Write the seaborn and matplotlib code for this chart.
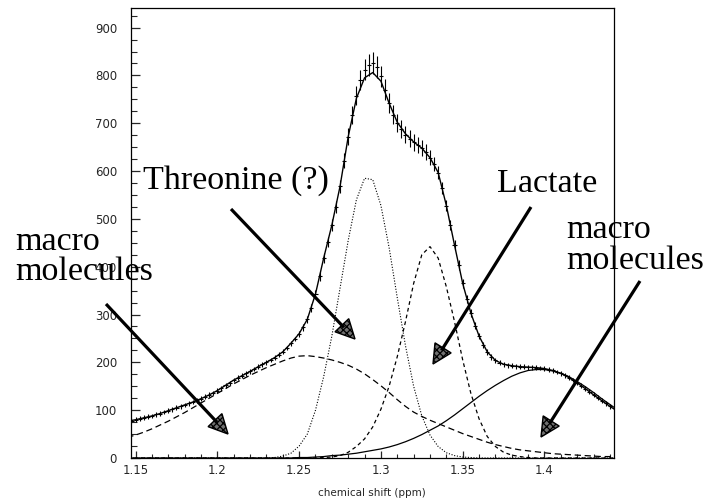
import numpy as np
import pandas as pd
import matplotlib
matplotlib.use("Agg")
import matplotlib.pyplot as plt
import seaborn as sns
from matplotlib.patches import Polygon

# ---------------- data ----------------
# measured spectrum (bin width 0.0025 ppm, first bin centre 1.1475 ppm)
data_start, data_step = 1.1475, 0.0025
data_counts = [78, 80, 82, 84, 86,
               88, 91, 93, 96, 99,
               102, 105, 108, 111, 114,
               117, 121, 124, 128, 132,
               136, 141, 146, 152, 157,
               163, 168, 172, 177, 181,
               186, 191, 196, 200, 205,
               210, 216, 222, 230, 240,
               249, 260, 273, 290, 313,
               343, 380, 418, 452, 487,
               525, 568, 622, 672, 718,
               758, 790, 812, 822, 826,
               818, 798, 770, 742, 718,
               700, 688, 676, 668, 660,
               655, 648, 640, 628, 615,
               597, 565, 528, 487, 445,
               403, 365, 332, 303, 277,
               255, 236, 222, 211, 204,
               199, 196, 194, 193, 192,
               191, 191, 190, 190, 189,
               188, 187, 185, 183, 180,
               177, 173, 168, 163, 157,
               151, 145, 139, 132, 126,
               120, 114, 108]
data_errors = [5] * 40 + [5, 6, 7, 7, 8,
                          8, 9, 10, 11, 12,
                          13, 14, 16, 18, 19,
                          20, 21, 22, 23, 23,
                          23, 22, 22, 21, 20,
                          19, 19, 18, 18, 17,
                          17, 17, 16, 16, 15,
                          14, 13, 12, 11, 10,
                          10, 9, 8, 8, 7,
                          7, 6, 6, 6, 5] + [5] * 28

# fitted model and its components (grid step 0.005 ppm from 1.145 ppm)
curve_start, curve_step = 1.145, 0.005
fit_total = [77, 80, 84, 88, 93,
             99, 105, 111, 117, 124,
             132, 141, 152, 163, 172,
             181, 191, 200, 210, 222,
             240, 260, 290, 343, 418,
             487, 568, 672, 752, 795,
             806, 788, 742, 702, 678,
             661, 648, 628, 597, 528,
             445, 365, 303, 255, 222,
             204, 196, 193, 191, 190,
             189, 187, 183, 177, 168,
             157, 145, 132, 120, 108,
             97]
macro_left = [43, 48, 54, 61, 69,
              77, 86, 95, 105, 115,
              125, 135, 145, 155, 164,
              173, 181, 189, 196, 203,
              209, 213, 214, 212, 209,
              205, 200, 194, 186, 176,
              164, 151, 137, 122, 108,
              96, 87, 79, 72, 65,
              58, 51, 45, 39, 33,
              28, 24, 20, 17, 15,
              13, 11, 9, 8, 7,
              6, 5, 4, 3, 3,
              2]
threonine = [0, 0, 0, 0, 0,
             0, 0, 0, 0, 0,
             0, 0, 0, 0, 0,
             0, 0, 0, 1, 4,
             10, 25, 50, 100, 170,
             255, 355, 455, 540, 585,
             582, 528, 440, 335, 235,
             150, 88, 48, 24, 11,
             5, 2, 1, 0, 0,
             0, 0, 0, 0, 0,
             0, 0, 0, 0, 0,
             0, 0, 0, 0, 0,
             0]
lactate = [0, 0, 0, 0, 0,
           0, 0, 0, 0, 0,
           0, 0, 0, 0, 0,
           0, 0, 0, 0, 0,
           0, 0, 0, 0, 1,
           2, 5, 12, 24, 40,
           65, 102, 150, 212, 285,
           365, 425, 442, 418, 358,
           285, 205, 135, 82, 45,
           24, 12, 6, 3, 1,
           0, 0, 0, 0, 0,
           0, 0, 0, 0, 0,
           0]
macro_right = [0, 0, 0, 0, 0,
               0, 0, 0, 0, 0,
               0, 0, 0, 0, 0,
               0, 0, 0, 0, 0,
               0, 1, 1, 2, 3,
               5, 6, 8, 10, 13,
               16, 19, 23, 28, 34,
               41, 49, 58, 67, 78,
               90, 103, 116, 129, 141,
               152, 162, 171, 178, 183,
               185, 185, 182, 177, 170,
               160, 149, 137, 124, 112,
               100]

x_ticks = [1.15, 1.2, 1.25, 1.3, 1.35, 1.4]
x_ticklabels = ["1.15", "1.2", "1.25", "1.3", "1.35", "1.4"]
y_ticks = [0, 100, 200, 300, 400, 500, 600, 700, 800, 900]

x_data = data_start + data_step * np.arange(len(data_counts))
x_curve = curve_start + curve_step * np.arange(len(fit_total))

df_data = pd.DataFrame({"shift": x_data, "counts": data_counts, "err": data_errors})
df_curves = pd.DataFrame({"shift": x_curve, "fit": fit_total, "macro_left": macro_left,
                          "threonine": threonine, "lactate": lactate,
                          "macro_right": macro_right})

# ---------------- figure ----------------
sns.set_style("ticks")
plt.rcParams["font.family"] = ["DejaVu Sans"]
plt.rcParams["hatch.linewidth"] = 0.9

W, H = 705, 504
fig = plt.figure(figsize=(W / 100, H / 100), dpi=100)
ax = fig.add_axes([131 / W, 46 / H, 483 / W, 450 / H])

# components
sns.lineplot(data=df_curves, x="shift", y="macro_left", ax=ax, color="black",
             lw=0.9, linestyle=(0, (5, 3)))
sns.lineplot(data=df_curves, x="shift", y="threonine", ax=ax, color="black",
             lw=0.8, linestyle=(0, (1, 1.5)))
sns.lineplot(data=df_curves, x="shift", y="lactate", ax=ax, color="black",
             lw=0.9, linestyle=(0, (3, 2.5)))
sns.lineplot(data=df_curves, x="shift", y="macro_right", ax=ax, color="black",
             lw=0.9, linestyle="-")
# total fit
sns.lineplot(data=df_curves, x="shift", y="fit", ax=ax, color="black", lw=1.0)
# data with error crosses
ax.errorbar(df_data["shift"], df_data["counts"], yerr=df_data["err"],
            xerr=data_step / 2, fmt="none", ecolor="black", elinewidth=0.8,
            capsize=0)

ax.set_xlim(1.1472, 1.4425)
ax.set_ylim(0, 941)
ax.set_xticks(x_ticks)
ax.set_xticklabels(x_ticklabels)
ax.set_yticks(y_ticks)
ax.xaxis.set_minor_locator(matplotlib.ticker.MultipleLocator(0.01))
ax.yaxis.set_minor_locator(matplotlib.ticker.MultipleLocator(25))
ax.tick_params(axis="x", which="major", direction="in", length=5, width=0.9,
               labelsize=8.5, pad=4, top=False)
ax.tick_params(axis="x", which="minor", direction="in", length=3, width=0.8, top=False)
ax.tick_params(axis="y", which="major", direction="in", length=6.5, width=0.9,
               labelsize=8.5, pad=10, right=False)
ax.tick_params(axis="y", which="minor", direction="in", length=4.3, width=0.8, right=False)
for s in ax.spines.values():
    s.set_visible(True)
    s.set_linewidth(0.9)
    s.set_color("black")
ax.set_xlabel("")
ax.set_ylabel("")
fig.text(372 / W, 1 - 496 / H, "chemical shift (ppm)", ha="center", va="baseline",
         fontsize=7.5)

# annotations
serif = ["Liberation Serif", "DejaVu Serif"]
fs = 24.5
def ftxt(x, y, s):
    fig.text(x / W, 1 - y / H, s, ha="left", va="baseline", fontsize=fs,
             family=serif, color="black")

ftxt(15, 250, "macro")
ftxt(15, 280, "molecules")
ftxt(143, 189, "Threonine (?)")
ftxt(497, 192, "Lactate")
ftxt(566, 238, "macro")
ftxt(566, 269, "molecules")

def farrow(x0, y0, x1, y1, head_len=19, half_w=9.5):
    # positions in figure pixels measured from top-left
    p0 = np.array([x0, H - y0], float)
    p1 = np.array([x1, H - y1], float)
    d = p1 - p0
    u = d / np.hypot(*d)
    n = np.array([-u[1], u[0]])
    base = p1 - u * head_len
    fig.add_artist(plt.Line2D([p0[0] / W, (base[0] + u[0] * 3) / W],
                              [p0[1] / H, (base[1] + u[1] * 3) / H],
                              transform=fig.transFigure, color="black", lw=2.3,
                              solid_capstyle="butt"))
    tri = np.array([p1, base + n * half_w, base - n * half_w])
    tri[:, 0] /= W
    tri[:, 1] /= H
    fig.add_artist(Polygon(tri, closed=True, transform=fig.transFigure,
                           facecolor="#707070", edgecolor="black", lw=1.0,
                           hatch="xxxxx"))

farrow(106, 304, 228, 434)
farrow(231, 209, 355, 339)
farrow(531, 207, 433, 364)
farrow(640, 281, 541, 437)

fig.savefig("out.png", dpi=100)
